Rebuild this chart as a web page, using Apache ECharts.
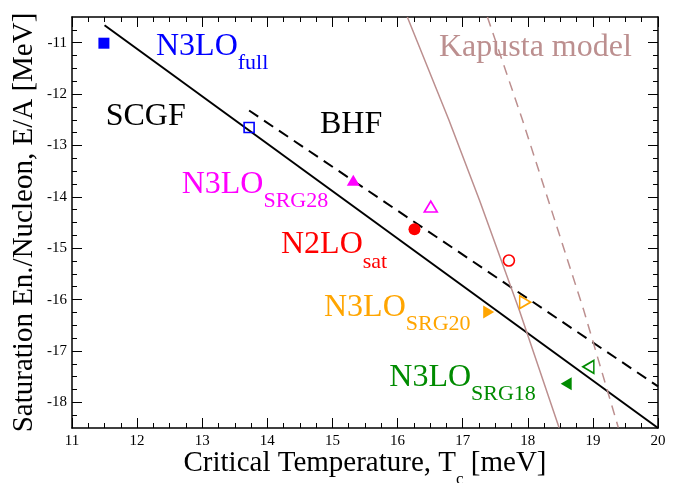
<!DOCTYPE html>
<html><head><meta charset="utf-8">
<script src="https://cdn.jsdelivr.net/npm/echarts@6/dist/echarts.min.js"></script>
<style>html,body{margin:0;padding:0;background:#fff}#c{width:683px;height:483px}</style>
</head><body><div id="c"></div>
<script>
// ---- data ----
const xRange = [11, 20];
const yRange = [-18.5, -10.5];
const yTickValues = [-18, -17, -16, -15, -14, -13, -12, -11];
const yMinorTickValues = [-18.25, -17.75, -17.5, -17.25, -16.75, -16.5, -16.25, -15.75, -15.5, -15.25,
  -14.75, -14.5, -14.25, -13.75, -13.5, -13.25, -12.75, -12.5, -12.25, -11.75, -11.5, -11.25, -10.75];

const scgfLine = [[11.50, -10.66], [20.0, -18.50]];
const bhfLine = [[13.72, -12.32], [20.0, -17.69]];
const kapustaSolid = [[16.15, -10.50], [16.79, -12.51], [17.26, -14.07], [17.87, -16.21], [18.48, -18.49]];
const kapustaDashed = [[17.38, -10.50], [17.92, -12.51], [18.86, -16.21], [19.39, -18.49]];

const n3loFullSCGF = [[11.49, -11.01]];
const n3loFullBHF = [[13.72, -12.65]];
const srg28SCGF = [[15.32, -13.68]];
const srg28BHF = [[16.51, -14.19]];
const n2loSatSCGF = [[16.26, -14.63]];
const n2loSatBHF = [[17.71, -15.24]];
const srg20SCGF = [[17.40, -16.24]];
const srg20BHF = [[17.96, -16.05]];
const srg18SCGF = [[18.59, -17.64]];
const srg18BHF = [[18.93, -17.31]];

const labelNames = ['N3LO', 'N3LO', 'N2LO', 'N3LO', 'N3LO'];
const labelSubs = ['full', 'SRG28', 'sat', 'SRG20', 'SRG18'];
const methodLabels = ['SCGF', 'BHF'];
const modelLabel = 'Kapusta model';
const xTitle = ['Critical Temperature, T', 'c', ' [meV]'];
const yTitle = 'Saturation En./Nucleon, E/A [MeV]';

// ---- styles / layout ----
const FONT = 'Liberation Serif';
const C = {blue: '#0000ff', magenta: '#ff00ff', red: '#ff0000', orange: '#ffa500', green: '#008b00', brown: '#bc8f8f'};
const labelColors = [C.blue, C.magenta, C.red, C.orange, C.green];
const labelPos = [[156, 57.3], [181.7, 195], [281, 255.7], [324, 318.3], [389.3, 388.3]]; // left, baseline
const methodPos = [[105.7, 127.7], [320, 135]];
const modelPos = [439, 58.3];
const MAIN = 32, SUB = 22;

function baseY(b) { return b - 0.3375 * MAIN; }

const graphics = [];
labelNames.forEach((n, i) => {
  graphics.push({
    type: 'text', x: labelPos[i][0], y: baseY(labelPos[i][1]), silent: true,
    style: {
      text: '{m|' + n + '}{s|' + labelSubs[i] + '}',
      align: 'left', verticalAlign: 'middle',
      rich: {
        m: {fontSize: MAIN, fontFamily: FONT, lineHeight: 56, fill: labelColors[i]},
        s: {fontSize: SUB, fontFamily: FONT, lineHeight: 22, verticalAlign: 'bottom', fill: labelColors[i]}
      }
    }
  });
});
methodLabels.forEach((t, i) => {
  graphics.push({type: 'text', x: methodPos[i][0], y: baseY(methodPos[i][1]), silent: true,
    style: {text: t, fontSize: MAIN, fontFamily: FONT, fill: '#000', align: 'left', verticalAlign: 'middle'}});
});
graphics.push({type: 'text', x: modelPos[0], y: baseY(modelPos[1]), silent: true,
  style: {text: modelLabel, fontSize: MAIN, fontFamily: FONT, fill: C.brown, align: 'left', verticalAlign: 'middle'}});

function xAxisDef(pos, labels) {
  return {
    type: 'value', position: pos, min: xRange[0], max: xRange[1], interval: 1,
    axisLine: {show: true, onZero: false, lineStyle: {color: '#000', width: 1.5}},
    axisTick: {show: true, inside: true, length: 10, lineStyle: {color: '#000', width: 1}},
    minorTick: {show: true, splitNumber: 4, length: 5, lineStyle: {color: '#000', width: 1}},
    axisLabel: {show: labels, color: '#000', fontFamily: FONT, fontSize: 15, margin: 6},
    splitLine: {show: false}, minorSplitLine: {show: false},
    name: labels ? '{m|' + xTitle[0] + '}{s|' + xTitle[1] + '}{m|' + xTitle[2] + '}' : '',
    nameLocation: 'middle', nameGap: 10, nameMoveOverlap: false,
    nameTextStyle: {
      rich: {
        m: {fontSize: 29, fontFamily: FONT, color: '#000', lineHeight: 50},
        s: {fontSize: 17, fontFamily: FONT, color: '#000', lineHeight: 14, verticalAlign: 'bottom'}
      }
    }
  };
}
function yAxisDef(pos, values, len, line, labels) {
  return {
    type: 'value', position: pos, min: yRange[0], max: yRange[1],
    axisLine: {show: line, onZero: false, lineStyle: {color: '#000', width: 1.5}},
    axisTick: {show: true, inside: true, length: len, customValues: values, lineStyle: {color: '#000', width: 1}},
    axisLabel: {show: labels, customValues: values, color: '#000', fontFamily: FONT, fontSize: 15, margin: 5},
    splitLine: {show: false},
    name: labels ? yTitle : '', nameLocation: 'middle', nameGap: 33, nameRotate: 90, nameMoveOverlap: false,
    nameTextStyle: {fontSize: 29, fontFamily: FONT, color: '#000'}
  };
}

function lineSeries(data, color, width, type) {
  return {type: 'line', data: data, xAxisIndex: 0, yAxisIndex: 0, showSymbol: false, silent: true,
    lineStyle: {color: color, width: width, type: type}, z: 2};
}
function markSeries(data, symbol, size, color, filled, rotate) {
  return {type: 'scatter', data: data, xAxisIndex: 0, yAxisIndex: 0, symbol: symbol, symbolSize: size,
    symbolRotate: rotate || 0, silent: true, z: 5,
    itemStyle: filled ? {color: color, opacity: 1} : {color: 'rgba(0,0,0,0)', borderColor: color, borderWidth: 1.6, opacity: 1}};
}

const chart = echarts.init(document.getElementById('c'), null, {renderer: 'canvas'});
chart.setOption({
  animation: false,
  backgroundColor: '#fff',
  grid: {left: 72, right: 25, top: 17, bottom: 55, containLabel: false, outerBoundsMode: 'none'},
  xAxis: [xAxisDef('bottom', true), xAxisDef('top', false)],
  yAxis: [
    yAxisDef('left', yTickValues, 10, true, true),
    yAxisDef('left', yMinorTickValues, 5, false, false),
    yAxisDef('right', yTickValues, 10, true, false),
    yAxisDef('right', yMinorTickValues, 5, false, false)
  ],
  series: [
    lineSeries(scgfLine, '#000', 2, 'solid'),
    lineSeries(bhfLine, '#000', 2, [11, 7]),
    lineSeries(kapustaSolid, C.brown, 1.5, 'solid'),
    lineSeries(kapustaDashed, C.brown, 1.5, [10, 7]),
    markSeries(n3loFullSCGF, 'rect', 11, C.blue, true),
    markSeries(n3loFullBHF, 'rect', 10, C.blue, false),
    markSeries(srg28SCGF, 'triangle', [13, 11], C.magenta, true),
    markSeries(srg28BHF, 'triangle', [13, 11], C.magenta, false),
    markSeries(n2loSatSCGF, 'circle', 12, C.red, true),
    markSeries(n2loSatBHF, 'circle', 11, C.red, false),
    markSeries(srg20SCGF, 'triangle', [13, 11], C.orange, true, -90),
    markSeries(srg20BHF, 'triangle', [13, 11], C.orange, false, -90),
    markSeries(srg18SCGF, 'triangle', [13, 11], C.green, true, 90),
    markSeries(srg18BHF, 'triangle', [13, 11], C.green, false, 90)
  ],
  graphic: graphics
});
</script></body></html>
